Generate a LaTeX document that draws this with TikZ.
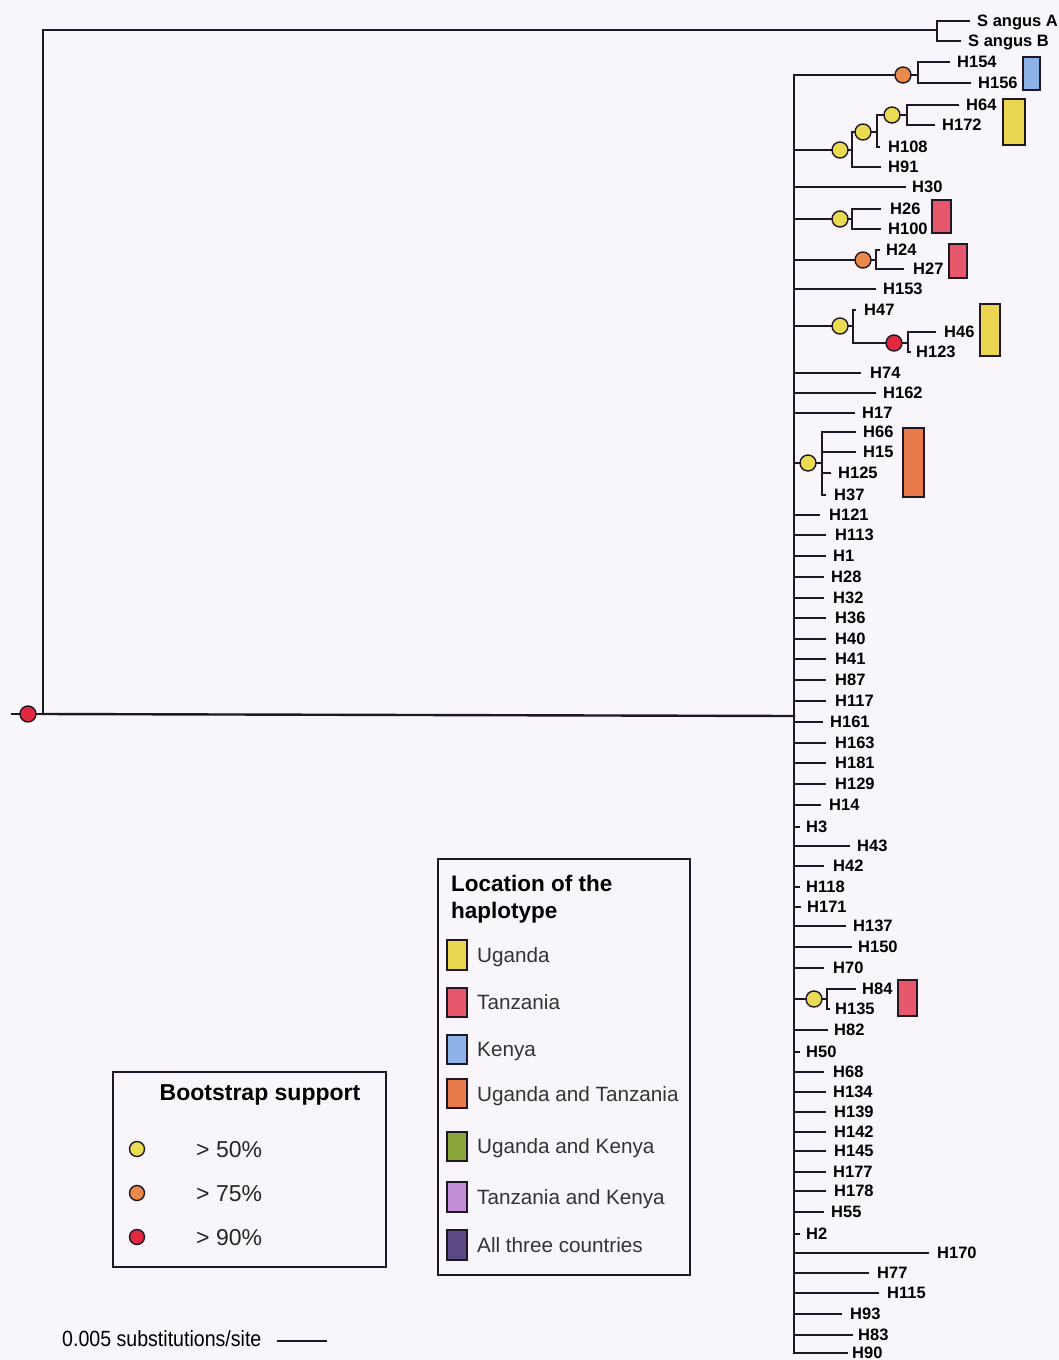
\documentclass[tikz,border=0pt]{standalone}
\usepackage{fontspec}
\setmainfont{Liberation Sans}
\definecolor{bg}{RGB}{248,246,251}
\definecolor{ln}{RGB}{32,22,38}
\definecolor{ug}{RGB}{234,213,80}
\definecolor{tz}{RGB}{232,88,108}
\definecolor{ke}{RGB}{140,178,232}
\definecolor{ut}{RGB}{232,122,74}
\definecolor{uk}{RGB}{138,166,58}
\definecolor{tk}{RGB}{194,142,216}
\definecolor{al}{RGB}{92,72,132}
\definecolor{dy}{RGB}{234,220,82}
\definecolor{dor}{RGB}{234,138,74}
\definecolor{dr}{RGB}{224,40,62}
\newcommand{\lblfont}{\fontsize{16.5}{16.5}\selectfont\bfseries}
\newcommand{\leaf}[6]{%
  \node[lf,inner xsep={#5-#3}] (#1) at (#3,#4) {#6};
  \draw[br] (#2,#4) -- (#1.west);}
\begin{document}
\begin{tikzpicture}[x=1pt,y=-1pt,
  br/.style={draw=ln, line width=2.4pt, line cap=rect},
  lf/.style={anchor=west, inner ysep=0pt, text height=11.8pt, text depth=0pt, font=\lblfont, text=black},
  dotn/.style={circle, draw=ln, line width=1.4pt, minimum size=16pt, inner sep=0pt},
  ydot/.style={dotn, fill=dy}, odot/.style={dotn, fill=dor}, rdot/.style={dotn, fill=dr},
  geo/.style={draw=ln, line width=1.8pt},
  lbox/.style={draw=ln, line width=2.2pt},
  ttl/.style={font=\fontsize{22.5}{27}\selectfont\bfseries, text=black, inner sep=0pt},
  lg1/.style={anchor=west, inner sep=0pt, text height=16.5pt, text depth=0pt, font=\fontsize{23}{23}\selectfont, text=black!85},
  lg2/.style={anchor=west, inner sep=0pt, text height=14.7pt, text depth=0pt, font=\fontsize{20.7}{20.7}\selectfont, text=black!80},
]
\fill[bg] (0,0) rectangle (1059,1360);
\useasboundingbox (0,0) rectangle (1059,1360);

% ---- root and outgroup
\coordinate (r0) at (12,714);
\coordinate (rA) at (43,714);
\coordinate (rT) at (43,30);
\coordinate (oT) at (937,30);
\coordinate (mJ) at (794,716);
\draw[br] (r0) -- (rA) -- (rT) -- (oT);
\draw[br] (rA) -- (mJ);
\draw[br] (937,21) -- (937,41);
\leaf{SA}{937}{969}{21}{977}{S angus A}
\leaf{SB}{937}{960}{41}{968}{S angus B}

% ---- main vertical
\draw[br] (794,75) -- (794,1353);

% clade 1
\draw[br] (794,75) -- (918,75); \draw[br] (918,62) -- (918,83);
\leaf{H154}{918}{949}{62}{957}{H154}
\leaf{H156}{918}{970}{83}{978}{H156}
\draw[geo,fill=ke] (1023,57) rectangle (1040,90);

% clade 2
\draw[br] (794,150) -- (852,150); \draw[br] (852,132) -- (852,167);
\draw[br] (852,132) -- (877,132); \draw[br] (877,115) -- (877,147);
\draw[br] (877,115) -- (907,115); \draw[br] (907,105) -- (907,125);
\leaf{H64}{907}{958}{105}{966}{H64}
\leaf{H172}{907}{934}{125}{942}{H172}
\leaf{H108}{877}{879}{147}{888}{H108}
\leaf{H91}{852}{880}{167}{888}{H91}
\draw[geo,fill=ug] (1003,99) rectangle (1025,145);

\leaf{H30}{794}{905}{187}{912}{H30}

% clade 3
\draw[br] (794,219) -- (852,219); \draw[br] (852,209) -- (852,229);
\leaf{H26}{852}{880}{209}{890}{H26}
\leaf{H100}{852}{880}{229}{888}{H100}
\draw[geo,fill=tz] (932,200) rectangle (951,233);

% clade 4
\draw[br] (794,260) -- (876,260); \draw[br] (876,250) -- (876,269);
\leaf{H24}{876}{879}{250}{886}{H24}
\leaf{H27}{876}{903}{269}{913}{H27}
\draw[geo,fill=tz] (949,244) rectangle (967,278);

\leaf{H153}{794}{875}{289}{883}{H153}

% clade 5
\draw[br] (794,326) -- (853,326); \draw[br] (853,310) -- (853,343);
\leaf{H47}{853}{855}{310}{864}{H47}
\draw[br] (853,343) -- (908,343); \draw[br] (908,332) -- (908,352);
\leaf{H46}{908}{935}{332}{944}{H46}
\leaf{H123}{908}{910}{352}{916}{H123}
\draw[geo,fill=ug] (980,304) rectangle (1000,356);

\leaf{H74}{794}{860}{373}{870}{H74}
\leaf{H162}{794}{875}{393}{883}{H162}
\leaf{H17}{794}{854}{413}{862}{H17}

% clade 6
\draw[br] (794,463) -- (822,463); \draw[br] (822,432) -- (822,495);
\leaf{H66}{822}{855}{432}{863}{H66}
\leaf{H15}{822}{855}{452}{863}{H15}
\leaf{H125}{822}{830}{473}{838}{H125}
\leaf{H37}{822}{825}{495}{834}{H37}
\draw[geo,fill=ut] (903,428) rectangle (924,497);

\leaf{H121}{794}{819}{515}{829}{H121}
\leaf{H113}{794}{825}{535}{835}{H113}
\leaf{H1}{794}{825}{556}{833}{H1}
\leaf{H28}{794}{823}{577}{831}{H28}
\leaf{H32}{794}{823}{598}{833}{H32}
\leaf{H36}{794}{825}{618}{835}{H36}
\leaf{H40}{794}{825}{639}{835}{H40}
\leaf{H41}{794}{825}{659}{835}{H41}
\leaf{H87}{794}{825}{680}{835}{H87}
\leaf{H117}{794}{825}{701}{835}{H117}
\leaf{H161}{794}{822}{722}{830}{H161}
\leaf{H163}{794}{825}{743}{835}{H163}
\leaf{H181}{794}{825}{763}{835}{H181}
\leaf{H129}{794}{825}{784}{835}{H129}
\leaf{H14}{794}{820}{805}{829}{H14}
\leaf{H3}{794}{799}{827}{806}{H3}
\leaf{H43}{794}{849}{846}{857}{H43}
\leaf{H42}{794}{823}{866}{833}{H42}
\leaf{H118}{794}{799}{887}{806}{H118}
\leaf{H171}{794}{800}{907}{807}{H171}
\leaf{H137}{794}{845}{926}{853}{H137}
\leaf{H150}{794}{851}{947}{858}{H150}
\leaf{H70}{794}{823}{968}{833}{H70}

% clade 7
\draw[br] (794,999) -- (827,999); \draw[br] (827,989) -- (827,1008);
\leaf{H84}{827}{855}{989}{862}{H84}
\leaf{H135}{827}{829}{1009}{835}{H135}
\draw[geo,fill=tz] (898,980) rectangle (917,1016);

\leaf{H82}{794}{827}{1030}{834}{H82}
\leaf{H50}{794}{799}{1052}{806}{H50}
\leaf{H68}{794}{823}{1072}{833}{H68}
\leaf{H134}{794}{825}{1092}{833}{H134}
\leaf{H139}{794}{825}{1112}{834}{H139}
\leaf{H142}{794}{825}{1132}{834}{H142}
\leaf{H145}{794}{825}{1151}{834}{H145}
\leaf{H177}{794}{825}{1172}{833}{H177}
\leaf{H178}{794}{825}{1191}{834}{H178}
\leaf{H55}{794}{823}{1212}{831}{H55}
\leaf{H2}{794}{799}{1234}{806}{H2}
\leaf{H170}{794}{928}{1253}{937}{H170}
\leaf{H77}{794}{868}{1273}{877}{H77}
\leaf{H115}{794}{878}{1293}{887}{H115}
\leaf{H93}{794}{841}{1314}{850}{H93}
\leaf{H83}{794}{852}{1335}{858}{H83}
\leaf{H90}{794}{847}{1353}{852}{H90}

% ---- support dots
\node[rdot] (root) at (28,714) {};
\node[odot] (n1) at (903,75) {};
\node[ydot] (n2) at (840,150) {};
\node[ydot] (n2a) at (863,132) {};
\node[ydot] (n2b) at (892,115) {};
\node[ydot] (n3) at (840,219) {};
\node[odot] (n4) at (863,260) {};
\node[ydot] (n5) at (840,326) {};
\node[rdot] (n5a) at (894,343) {};
\node[ydot] (n6) at (808,463) {};
\node[ydot] (n7) at (814,999) {};

% ---- bootstrap legend
\draw[lbox] (113,1072) rectangle (386,1267);
\node[ttl, font=\fontsize{23}{23}\selectfont\bfseries] (btitle) at (260,1095) {Bootstrap support};
\node[ydot, minimum size=15pt] (b1) at (137,1149) {};
\node[odot, minimum size=15pt] (b2) at (137,1193) {};
\node[rdot, minimum size=15pt] (b3) at (137,1237) {};
\node[lg1] (bt1) at (196,1149) {> 50\%};
\node[lg1] (bt2) at (196,1193) {> 75\%};
\node[lg1] (bt3) at (196,1237) {> 90\%};

% ---- location legend
\draw[lbox] (438,859) rectangle (690,1275);
\node[ttl, anchor=base west] (lt1) at (451,891) {Location of the};
\node[ttl, anchor=base west] (lt2) at (451,918) {haplotype};
\draw[geo,fill=ug] (447,940) rectangle (467,970);
\draw[geo,fill=tz] (447,988) rectangle (467,1017);
\draw[geo,fill=ke] (447,1035) rectangle (467,1064);
\draw[geo,fill=ut] (447,1079) rectangle (467,1108);
\draw[geo,fill=uk] (447,1132) rectangle (467,1161);
\draw[geo,fill=tk] (447,1182) rectangle (467,1212);
\draw[geo,fill=al] (447,1230) rectangle (467,1260);
\node[lg2] (g1) at (477,955) {Uganda};
\node[lg2] (g2) at (477,1002) {Tanzania};
\node[lg2] (g3) at (477,1049) {Kenya};
\node[lg2] (g4) at (477,1094) {Uganda and Tanzania};
\node[lg2] (g5) at (477,1146) {Uganda and Kenya};
\node[lg2] (g6) at (477,1197) {Tanzania and Kenya};
\node[lg2] (g7) at (477,1245) {All three countries};

% ---- scale
\node[anchor=west, inner sep=0pt, text height=16pt, text depth=0pt, font=\fontsize{22}{22}\selectfont, text=black] (scl) at (62,1338) {\scalebox{0.89}[1]{0.005 substitutions/site}};
\draw[br, line cap=butt] ([xshift=15pt,yshift=-3pt]scl.east) -- ++(50,0);
\end{tikzpicture}
\end{document}
